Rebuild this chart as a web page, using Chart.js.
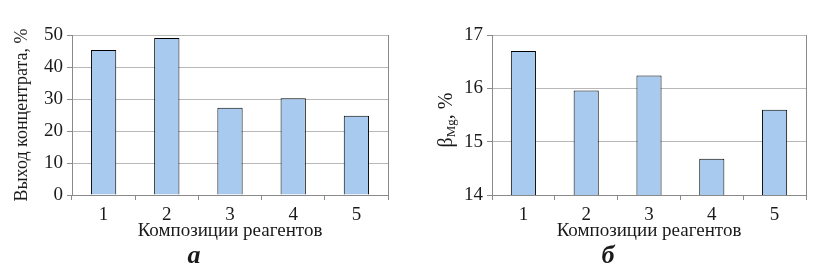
<!DOCTYPE html>
<html>
<head>
<meta charset="utf-8">
<script src="https://cdn.jsdelivr.net/npm/chart.js@4"></script>
<style>
  body { margin: 0; background: #fff; }
  .box { position: absolute; top: 0; height: 269px; }
</style>
</head>
<body>
<div class="box" style="left:0;width:410px"><canvas id="chartA"></canvas></div>
<div class="box" style="left:410px;width:407px"><canvas id="chartB"></canvas></div>
<script>
const categories = ['1', '2', '3', '4', '5'];
const yieldValues = [45.3, 49.1, 27.3, 30.2, 24.8];
const betaValues = [16.70, 15.96, 16.24, 14.68, 15.60];
const yieldTicks = [0, 10, 20, 30, 40, 50];
const betaTicks = [14, 15, 16, 17];

const FONT = '"Liberation Serif", "DejaVu Serif", serif';
const TEXT = '#1a1a1a';
const AXIS = '#8a8a8a';
const GRID = '#b8b8b8';
const SIZE = 19;

Chart.defaults.font.family = FONT;
Chart.defaults.color = TEXT;

// draws beta with subscript Mg, rotated like an axis title
const betaTitle = {
  id: 'betaTitle',
  afterDraw(chart) {
    const c = chart.ctx;
    const big = '20px ' + FONT, small = '13px ' + FONT;
    c.save();
    c.translate(37, 120);
    c.rotate(-Math.PI / 2);
    c.fillStyle = TEXT;
    c.textBaseline = 'middle';
    c.font = big;
    const w1 = c.measureText('β').width, w3 = c.measureText(', %').width;
    c.font = small;
    const w2 = c.measureText('Mg').width;
    let x = -(w1 + w2 + w3) / 2;
    c.font = big; c.fillText('β', x, 0); x += w1;
    c.font = small; c.fillText('Mg', x, 5); x += w2;
    c.font = big; c.fillText(', %', x, 0);
    c.restore();
  }
};

function makeChart(id, values, ticks, yTitle, letter, yWidth, padRight) {
  return new Chart(document.getElementById(id), {
    type: 'bar',
    data: {
      labels: categories,
      datasets: [{
        data: values,
        backgroundColor: '#a8caee',
        borderColor: '#000',
        borderWidth: 1,
        barPercentage: 0.4,
        categoryPercentage: 1
      }]
    },
    options: {
      responsive: true,
      maintainAspectRatio: false,
      animation: false,
      layout: { padding: { left: 0, right: padRight, top: 35, bottom: 0 } },
      scales: {
        x: {
          afterFit: s => { s.height = 48; },
          grid: {
            offset: true,
            color: ctx => ctx.tick ? 'transparent' : AXIS,
            tickColor: AXIS,
            tickLength: 5
          },
          border: { color: AXIS },
          ticks: { font: { size: SIZE }, padding: 4, color: TEXT },
          title: {
            display: true,
            text: 'Композиции реагентов',
            font: { size: SIZE },
            padding: { top: 0, bottom: 1 },
            color: TEXT
          }
        },
        y: {
          min: ticks[0],
          max: ticks[ticks.length - 1],
          afterFit: s => { s.width = yWidth; },
          afterBuildTicks: s => { s.ticks = ticks.map(v => ({ value: v })); },
          grid: { color: GRID, tickColor: AXIS, tickLength: 5 },
          border: { color: AXIS },
          ticks: { font: { size: SIZE }, padding: 4, color: TEXT },
          title: {
            display: !!yTitle,
            text: yTitle,
            font: { size: 18 },
            padding: { top: 11, bottom: 0 },
            color: TEXT
          }
        }
      },
      plugins: {
        legend: { display: false },
        tooltip: { enabled: false },
        title: {
          display: true,
          position: 'bottom',
          text: letter,
          font: { size: 26, weight: 'bold', style: 'italic', lineHeight: 1 },
          padding: { top: 0, bottom: 0 },
          color: TEXT
        }
      }
    },
    plugins: yTitle ? [] : [betaTitle]
  });
}

makeChart('chartA', yieldValues, yieldTicks, 'Выход концентрата, %', 'а', 72, 22);
makeChart('chartB', betaValues, betaTicks, '', 'б', 82, 11);
</script>
</body>
</html>
